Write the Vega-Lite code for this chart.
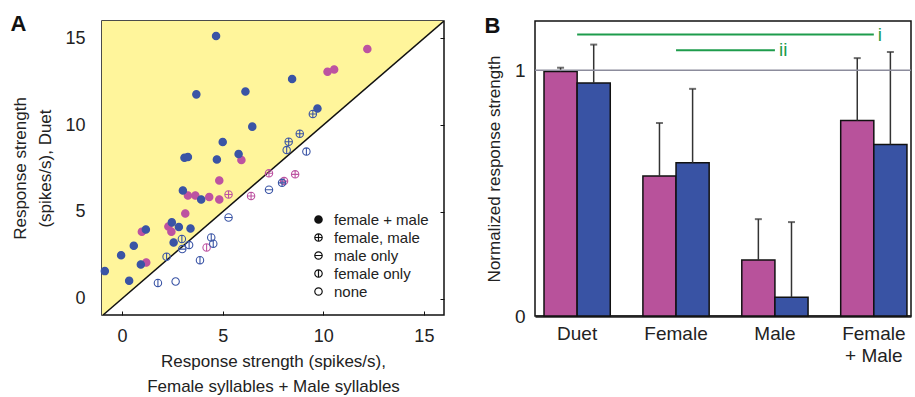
{
  "$schema": "https://vega.github.io/schema/vega-lite/v6.json",
  "padding": {"left": 9, "top": 11, "right": 0, "bottom": 0},
  "spacing": 37,
  "resolve": {"legend": {"shape": "independent"}, "scale": {"xOffset": "independent", "fill": "independent", "stroke": "independent"}},
  "config": {
    "font": "Liberation Sans",
    "view": {"stroke": "#111", "strokeWidth": 1.5},
    "axis": {"labelColor": "#222", "titleColor": "#222", "titleFontWeight": "normal", "grid": false}
  },
  "hconcat": [
    {
      "width": 342,
      "height": 294,
      "layer": [
        {
          "data": {"values": [{"x": -1, "y": -1, "y2": 16}, {"x": 16, "y": 16, "y2": 16}]},
          "mark": {"type": "area", "color": "#fff59b", "clip": true},
          "encoding": {
            "x": {"field": "x", "type": "quantitative", "scale": {"domain": [-1, 16], "nice": false, "zero": false},
              "axis": {"orient": "bottom", "values": [0, 5, 10, 15], "tickSize": -4, "tickColor": "#111", "domain": false, "labelFontSize": 18, "labelPadding": 16,
                "title": ["Response strength (spikes/s),", "Female syllables + Male syllables"], "titleFontSize": 17, "titleLineHeight": 25, "titlePadding": 8}},
            "y": {"field": "y", "type": "quantitative", "scale": {"domain": [-0.95, 16], "nice": false, "zero": false},
              "axis": {"orient": "left", "values": [0, 5, 10, 15], "tickSize": -4, "tickColor": "#111", "domain": false, "labelFontSize": 18, "labelPadding": 21,
                "title": ["Response strength", "(spikes/s), Duet"], "titleFontSize": 17, "titleLineHeight": 25, "titlePadding": 10}},
            "y2": {"field": "y2"}
          }
        },
        {
          "data": {"values": [{"x": -1, "y": -1}, {"x": 16, "y": 16}]},
          "mark": {"type": "line", "color": "#111", "strokeWidth": 1.5, "clip": true},
          "encoding": {
            "x": {"field": "x", "type": "quantitative", "axis": {"orient": "top", "labels": false, "values": [0, 5, 10, 15], "tickSize": -4, "tickColor": "#111", "domain": false,
              "title": "A", "titleFontSize": 22, "titleFontWeight": "bold", "titleColor": "#111", "titleX": -92, "titleY": 9.5, "titleAlign": "left", "titleBaseline": "alphabetic", "titleAngle": 0}},
            "y": {"field": "y", "type": "quantitative", "axis": {"orient": "right", "labels": false, "title": null, "values": [0, 5, 10, 15], "tickSize": -4, "tickColor": "#111", "domain": false}}
          }
        },
        {
          "data": {"values": [
            {"fm": 5.93, "duet": 7.98, "sex": "female", "resp": "female + male"},
            {"fm": 4.83, "duet": 6.81, "sex": "female", "resp": "female + male"},
            {"fm": 3.27, "duet": 5.94, "sex": "female", "resp": "female + male"},
            {"fm": 3.64, "duet": 5.94, "sex": "female", "resp": "female + male"},
            {"fm": 4.33, "duet": 5.85, "sex": "female", "resp": "female + male"},
            {"fm": 4.83, "duet": 5.71, "sex": "female", "resp": "female + male"},
            {"fm": 3.14, "duet": 4.9, "sex": "female", "resp": "female + male"},
            {"fm": 2.3, "duet": 4.15, "sex": "female", "resp": "female + male"},
            {"fm": 2.45, "duet": 3.85, "sex": "female", "resp": "female + male"},
            {"fm": 0.98, "duet": 3.85, "sex": "female", "resp": "female + male"},
            {"fm": 1.2, "duet": 2.08, "sex": "female", "resp": "female + male"},
            {"fm": 12.19, "duet": 14.39, "sex": "female", "resp": "female + male"},
            {"fm": 10.21, "duet": 13.08, "sex": "female", "resp": "female + male"},
            {"fm": 10.54, "duet": 13.21, "sex": "female", "resp": "female + male"},
            {"fm": 4.67, "duet": 15.14, "sex": "male", "resp": "female + male"},
            {"fm": 3.69, "duet": 11.77, "sex": "male", "resp": "female + male"},
            {"fm": 6.13, "duet": 11.93, "sex": "male", "resp": "female + male"},
            {"fm": 6.47, "duet": 9.91, "sex": "male", "resp": "female + male"},
            {"fm": 5.0, "duet": 9.02, "sex": "male", "resp": "female + male"},
            {"fm": 3.1, "duet": 8.12, "sex": "male", "resp": "female + male"},
            {"fm": 3.27, "duet": 8.16, "sex": "male", "resp": "female + male"},
            {"fm": 4.71, "duet": 8.02, "sex": "male", "resp": "female + male"},
            {"fm": 5.79, "duet": 8.33, "sex": "male", "resp": "female + male"},
            {"fm": 3.02, "duet": 6.23, "sex": "male", "resp": "female + male"},
            {"fm": 3.93, "duet": 5.71, "sex": "male", "resp": "female + male"},
            {"fm": 2.47, "duet": 4.39, "sex": "male", "resp": "female + male"},
            {"fm": 2.82, "duet": 4.12, "sex": "male", "resp": "female + male"},
            {"fm": 3.4, "duet": 4.04, "sex": "male", "resp": "female + male"},
            {"fm": 1.18, "duet": 3.98, "sex": "male", "resp": "female + male"},
            {"fm": 0.58, "duet": 3.04, "sex": "male", "resp": "female + male"},
            {"fm": 2.56, "duet": 3.23, "sex": "male", "resp": "female + male"},
            {"fm": -0.05, "duet": 2.5, "sex": "male", "resp": "female + male"},
            {"fm": 0.93, "duet": 1.96, "sex": "male", "resp": "female + male"},
            {"fm": -0.86, "duet": 1.58, "sex": "male", "resp": "female + male"},
            {"fm": 0.35, "duet": 1.02, "sex": "male", "resp": "female + male"},
            {"fm": 8.45, "duet": 12.66, "sex": "male", "resp": "female + male"},
            {"fm": 9.71, "duet": 10.95, "sex": "male", "resp": "female + male"},
            {"fm": 5.29, "duet": 6.0, "sex": "female", "resp": "female, male"},
            {"fm": 6.41, "duet": 5.91, "sex": "female", "resp": "female, male"},
            {"fm": 7.3, "duet": 7.22, "sex": "female", "resp": "female, male"},
            {"fm": 8.6, "duet": 7.16, "sex": "female", "resp": "female, male"},
            {"fm": 8.05, "duet": 6.77, "sex": "female", "resp": "female, male"},
            {"fm": 4.2, "duet": 2.94, "sex": "female", "resp": "female only"},
            {"fm": 9.48, "duet": 10.64, "sex": "male", "resp": "female, male"},
            {"fm": 8.83, "duet": 9.5, "sex": "male", "resp": "female, male"},
            {"fm": 8.28, "duet": 9.04, "sex": "male", "resp": "female, male"},
            {"fm": 7.95, "duet": 6.67, "sex": "male", "resp": "female, male"},
            {"fm": 8.18, "duet": 8.56, "sex": "male", "resp": "female only"},
            {"fm": 9.16, "duet": 8.47, "sex": "male", "resp": "female only"},
            {"fm": 2.97, "duet": 3.43, "sex": "male", "resp": "female only"},
            {"fm": 3.33, "duet": 3.08, "sex": "male", "resp": "female only"},
            {"fm": 4.43, "duet": 3.52, "sex": "male", "resp": "female only"},
            {"fm": 4.53, "duet": 3.16, "sex": "male", "resp": "female only"},
            {"fm": 2.21, "duet": 2.41, "sex": "male", "resp": "female only"},
            {"fm": 3.87, "duet": 2.21, "sex": "male", "resp": "female only"},
            {"fm": 1.78, "duet": 0.9, "sex": "male", "resp": "female only"},
            {"fm": 7.3, "duet": 6.27, "sex": "male", "resp": "male only"},
            {"fm": 5.29, "duet": 4.67, "sex": "male", "resp": "male only"},
            {"fm": 2.99, "duet": 2.85, "sex": "male", "resp": "male only"},
            {"fm": 2.66, "duet": 0.98, "sex": "male", "resp": "none"}
          ]},
          "mark": {"type": "point", "filled": false, "strokeWidth": 1.1, "opacity": 1, "size": 55},
          "encoding": {
            "x": {"field": "fm", "type": "quantitative", "axis": null},
            "y": {"field": "duet", "type": "quantitative", "axis": null},
            "stroke": {"field": "sex", "type": "nominal", "scale": {"domain": ["female", "male"], "range": ["#bd53a1", "#3a54a5"]}, "legend": null},
            "fill": {"condition": {"test": "datum.resp === 'female + male'", "field": "sex", "type": "nominal", "scale": {"domain": ["female", "male"], "range": ["#bd53a1", "#3a54a5"]}, "legend": null}, "value": "transparent"},
            "shape": {"field": "resp", "type": "nominal",
              "scale": {"domain": ["female + male", "female, male", "male only", "female only", "none"],
                "range": ["M-1,0A1,1,0,1,1,1,0A1,1,0,1,1,-1,0ZM-0.75,0A0.75,0.75,0,1,1,0.75,0A0.75,0.75,0,1,1,-0.75,0ZM-0.5,0A0.5,0.5,0,1,1,0.5,0A0.5,0.5,0,1,1,-0.5,0ZM-0.25,0A0.25,0.25,0,1,1,0.25,0A0.25,0.25,0,1,1,-0.25,0ZM-0.1,0L0.1,0", "M-1,0A1,1,0,1,1,1,0A1,1,0,1,1,-1,0ZM-1,0L1,0M0,-1L0,1", "M-1,0A1,1,0,1,1,1,0A1,1,0,1,1,-1,0ZM-1,0L1,0", "M-1,0A1,1,0,1,1,1,0A1,1,0,1,1,-1,0ZM0,-1L0,1", "circle"]},
              "legend": {"title": null, "orient": "bottom-right", "offset": 15, "labelFontSize": 15, "labelColor": "#222", "symbolSize": 55, "symbolStrokeWidth": 1.2, "symbolStrokeColor": "#111", "symbolFillColor": "transparent", "rowPadding": 2, "labelOffset": 8, "padding": 0}}
          }
        }
      ]
    },
    {
      "width": 376,
      "height": 295,
      "resolve": {"axis": {"x": "independent", "y": "independent"}},
      "layer": [
        {
          "data": {"values": [
            {"stim": "Duet", "sex": "female", "mean": 0.995, "err": 1.01},
            {"stim": "Duet", "sex": "male", "mean": 0.948, "err": 1.104},
            {"stim": "Female", "sex": "female", "mean": 0.569, "err": 0.785},
            {"stim": "Female", "sex": "male", "mean": 0.623, "err": 0.924},
            {"stim": "Male", "sex": "female", "mean": 0.228, "err": 0.394},
            {"stim": "Male", "sex": "male", "mean": 0.076, "err": 0.382},
            {"stim": "Female + Male", "sex": "female", "mean": 0.795, "err": 1.049},
            {"stim": "Female + Male", "sex": "male", "mean": 0.698, "err": 1.074}
          ]},
          "layer": [
            {
              "mark": {"type": "bar", "stroke": "#111", "strokeWidth": 1.5},
              "encoding": {
                "x": {"field": "stim", "type": "nominal", "axis": null,
                  "scale": {"domain": ["Duet", "Female", "Male", "Female + Male"], "paddingInner": 0.33, "paddingOuter": 0.066, "align": 0.69}},
                "xOffset": {"field": "sex", "type": "nominal", "sort": ["female", "male"], "scale": {"paddingInner": 0, "paddingOuter": 0}},
                "y": {"field": "mean", "type": "quantitative", "axis": null, "scale": {"domain": [0, 1.2], "nice": false}},
                "fill": {"field": "sex", "type": "nominal", "scale": {"domain": ["female", "male"], "range": ["#b8529b", "#3953a4"]}, "legend": null}
              }
            },
            {
              "mark": {"type": "rule", "color": "#333", "strokeWidth": 1.5},
              "encoding": {
                "x": {"field": "stim", "type": "nominal", "axis": null},
                "xOffset": {"field": "sex", "type": "nominal", "sort": ["female", "male"]},
                "y": {"field": "mean", "type": "quantitative", "axis": null},
                "y2": {"field": "err"}
              }
            },
            {
              "mark": {"type": "tick", "color": "#333", "thickness": 2, "size": 7},
              "encoding": {
                "x": {"field": "stim", "type": "nominal", "axis": null},
                "xOffset": {"field": "sex", "type": "nominal", "sort": ["female", "male"]},
                "y": {"field": "err", "type": "quantitative", "axis": null}
              }
            }
          ]
        },
        {
          "data": {"values": [{"ref": 1}]},
          "mark": {"type": "rule", "color": "#8c8c9c", "strokeWidth": 1.5},
          "encoding": {"y": {"field": "ref", "type": "quantitative", "axis": null}}
        },
        {
          "data": {"values": [
            {"stim": "Duet", "to": "Female + Male", "level": 1.145, "label": "i"},
            {"stim": "Female", "to": "Male", "level": 1.081, "label": "ii"}
          ]},
          "mark": {"type": "rule", "color": "#1e9c4c", "strokeWidth": 1.8},
          "encoding": {
            "x": {"field": "stim", "type": "nominal", "axis": {"orient": "top", "labels": false, "ticks": false, "domain": false,
              "title": "B", "titleFontSize": 22, "titleFontWeight": "bold", "titleColor": "#111", "titleX": -51, "titleY": 11, "titleAlign": "left", "titleBaseline": "alphabetic", "titleAngle": 0}},
            "x2": {"field": "to"},
            "y": {"field": "level", "type": "quantitative", "axis": null}
          }
        },
        {
          "data": {"values": [
            {"stim": "Female + Male", "level": 1.145, "label": "i"},
            {"stim": "Male", "level": 1.081, "label": "ii"}
          ]},
          "mark": {"type": "text", "color": "#1e9c4c", "fontSize": 19, "align": "left", "baseline": "middle", "dx": 4},
          "encoding": {
            "x": {"field": "stim", "type": "nominal",
              "axis": {"orient": "bottom", "title": null, "labelAngle": 0, "labelFontSize": 19, "labelPadding": 8, "ticks": false, "domainColor": "#222", "domainWidth": 2.5, "labelLineHeight": 22,
                "labelExpr": "datum.value === 'Female + Male' ? ['Female', '+ Male'] : datum.value"}},
            "y": {"field": "level", "type": "quantitative",
              "axis": {"orient": "left", "values": [0, 1], "format": "d", "title": "Normalized response strength", "titleFontSize": 17, "labelFontSize": 19, "ticks": false, "domain": false, "labelPadding": 10, "titlePadding": 11}},
            "text": {"field": "label"}
          }
        }
      ]
    }
  ]
}
